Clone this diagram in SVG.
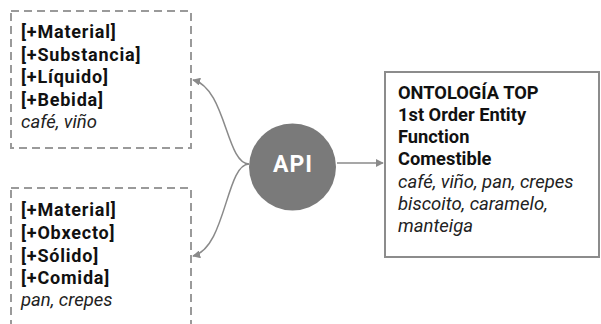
<svg xmlns="http://www.w3.org/2000/svg" width="601" height="324" viewBox="0 0 601 324">
<defs>
<style>
.dash{fill:#fff;stroke:#9a9a9a;stroke-width:2;stroke-dasharray:8,5}
.solid{fill:#fff;stroke:#8c8c8c;stroke-width:2}
.b{font-family:Roboto,"Liberation Sans",sans-serif;font-weight:700;font-size:18px;fill:#111;letter-spacing:0.8px}
.bt{font-family:Roboto,"Liberation Sans",sans-serif;font-weight:700;font-size:18.3px;fill:#111}
.i{font-family:Roboto,"Liberation Sans",sans-serif;font-style:italic;font-size:18.5px;fill:#222}
.conn{fill:none;stroke:#8a8a8a;stroke-width:1.5}
</style>
<marker id="ah" viewBox="0 0 10 10" refX="9" refY="5" markerWidth="8" markerHeight="8" markerUnits="userSpaceOnUse" orient="auto">
<path d="M0,0 L10,5 L0,10 z" fill="#8a8a8a"/>
</marker>
</defs>
<rect width="601" height="324" fill="#fff"/>
<g id="connectors">
<path class="conn" d="M249,164 C226,164 226,88 193,80" marker-end="url(#ah)"/>
<path class="conn" d="M249,164 C226,164 226,248 193,256" marker-end="url(#ah)"/>
<path class="conn" d="M337,163 L383,163" marker-end="url(#ah)"/>
</g>
<g id="node-liquido">
<rect class="dash" x="11" y="11" width="180" height="137"/>
<text class="b" x="21" y="38">[+Material]</text>
<text class="b" x="21" y="61">[+Substancia]</text>
<text class="b" x="21" y="83">[+Líquido]</text>
<text class="b" x="21" y="106">[+Bebida]</text>
<text class="i" x="21" y="128">café, viño</text>
</g>
<g id="node-solido">
<rect class="dash" x="11" y="188" width="180" height="137"/>
<text class="b" x="21" y="216">[+Material]</text>
<text class="b" x="21" y="239">[+Obxecto]</text>
<text class="b" x="21" y="262">[+Sólido]</text>
<text class="b" x="21" y="284">[+Comida]</text>
<text class="i" x="21" y="306">pan, crepes</text>
</g>
<g id="node-api">
<circle cx="292.5" cy="167" r="43.5" fill="#7a7a7a"/>
<text x="293" y="172" text-anchor="middle" font-family="Roboto,'Liberation Sans',sans-serif" font-weight="700" font-size="23" letter-spacing="1" fill="#fff">API</text>
</g>
<g id="node-ontologia">
<rect class="solid" x="385" y="72" width="214" height="185"/>
<text class="bt" x="398" y="99">ONTOLOGÍA TOP</text>
<text class="bt" x="398" y="121">1st Order Entity</text>
<text class="bt" x="398" y="143">Function</text>
<text class="bt" x="398" y="165">Comestible</text>
<text class="i" x="398" y="188">café, viño, pan, crepes</text>
<text class="i" x="398" y="210">biscoito, caramelo,</text>
<text class="i" x="398" y="232">manteiga</text>
</g>
</svg>
